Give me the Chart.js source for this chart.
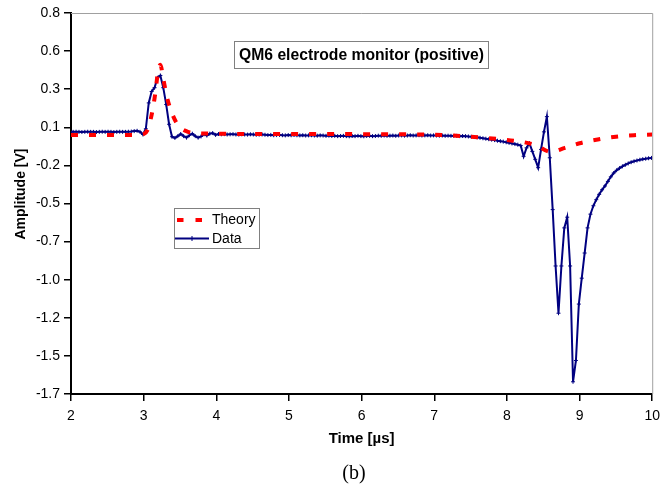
<!DOCTYPE html>
<html>
<head>
<meta charset="utf-8">
<script src="https://cdn.jsdelivr.net/npm/chart.js@4.4.1/dist/chart.umd.min.js"></script>
<style>
  html, body { margin: 0; padding: 0; background: #fff; }
  canvas { display: block; }
</style>
</head>
<body>
<canvas id="qm6" width="667" height="491"></canvas>
<script>
// measured signal (time in µs, amplitude in V)
const dataTime = [
  1.99,2.03,2.07,2.11,2.15,2.19,2.23,2.27,2.31,2.35,
  2.39,2.43,2.47,2.51,2.55,2.59,2.63,2.67,2.71,2.75,
  2.79,2.83,2.87,2.91,2.95,2.99,3.03,3.07,3.11,3.15,
  3.19,3.23,3.27,3.31,3.35,3.39,3.43,3.47,3.51,3.55,
  3.59,3.63,3.67,3.71,3.75,3.79,3.83,3.87,3.91,3.95,
  3.99,4.03,4.07,4.11,4.15,4.19,4.23,4.27,4.31,4.35,
  4.39,4.43,4.47,4.51,4.55,4.59,4.63,4.67,4.71,4.75,
  4.79,4.83,4.87,4.91,4.95,4.99,5.03,5.07,5.11,5.15,
  5.19,5.23,5.27,5.31,5.35,5.39,5.43,5.47,5.51,5.55,
  5.59,5.63,5.67,5.71,5.75,5.79,5.83,5.87,5.91,5.95,
  5.99,6.03,6.07,6.11,6.15,6.19,6.23,6.27,6.31,6.35,
  6.39,6.43,6.47,6.51,6.55,6.59,6.63,6.67,6.71,6.75,
  6.79,6.83,6.87,6.91,6.95,6.99,7.03,7.07,7.11,7.15,
  7.19,7.23,7.27,7.31,7.35,7.39,7.43,7.47,7.51,7.55,
  7.59,7.63,7.67,7.71,7.75,7.79,7.83,7.87,7.91,7.95,
  7.99,8.03,8.07,8.11,8.15,8.19,8.23,8.27,8.31,8.35,
  8.39,8.43,8.47,8.51,8.55,8.59,8.63,8.67,8.71,8.75,
  8.79,8.83,8.87,8.91,8.95,8.99,9.03,9.07,9.11,9.15,
  9.19,9.23,9.27,9.31,9.35,9.39,9.43,9.47,9.51,9.55,
  9.59,9.63,9.67,9.71,9.75,9.79,9.83,9.87,9.91,9.95,
  9.99,10.03
];
const dataAmp = [
  0.020,0.020,0.021,0.020,0.019,0.020,0.021,0.020,0.020,0.019,
  0.020,0.021,0.020,0.021,0.020,0.019,0.020,0.021,0.020,0.020,
  0.021,0.022,0.025,0.027,0.020,0.003,0.040,0.210,0.285,0.310,
  0.375,0.390,0.310,0.200,0.070,-0.012,-0.020,-0.008,0.006,-0.008,
  -0.018,-0.002,0.008,-0.008,-0.018,-0.010,0.004,-0.004,0.008,0.012,
  0.000,0.006,0.004,0.005,0.003,0.004,0.005,0.003,0.002,0.004,
  0.003,0.002,0.004,0.003,0.001,0.002,0.003,0.001,-0.001,0.000,
  -0.002,-0.001,0.000,-0.002,-0.003,-0.001,-0.002,0.000,-0.002,-0.003,
  -0.002,-0.004,-0.003,-0.002,-0.004,-0.005,-0.003,-0.004,-0.006,-0.005,
  -0.007,-0.006,-0.008,-0.007,-0.006,-0.008,-0.009,-0.007,-0.008,-0.006,
  -0.008,-0.009,-0.007,-0.006,-0.008,-0.007,-0.005,-0.006,-0.004,-0.006,
  -0.005,-0.004,-0.006,-0.004,-0.003,-0.005,-0.004,-0.002,-0.004,-0.003,
  -0.002,-0.004,-0.003,-0.002,-0.004,-0.003,-0.004,-0.005,-0.004,-0.006,
  -0.005,-0.006,-0.007,-0.006,-0.008,-0.007,-0.008,-0.010,-0.012,-0.014,
  -0.016,-0.019,-0.022,-0.025,-0.028,-0.031,-0.034,-0.038,-0.041,-0.044,
  -0.048,-0.052,-0.056,-0.060,-0.064,-0.070,-0.140,-0.085,-0.055,-0.108,
  -0.160,-0.215,-0.095,0.020,0.120,-0.150,-0.490,-0.860,-1.170,-0.860,
  -0.610,-0.540,-0.860,-1.620,-1.480,-1.110,-0.940,-0.775,-0.610,-0.520,
  -0.465,-0.425,-0.390,-0.360,-0.335,-0.305,-0.275,-0.250,-0.232,-0.218,
  -0.206,-0.196,-0.187,-0.179,-0.173,-0.168,-0.163,-0.159,-0.156,-0.153,
  -0.151,-0.150
];

// theory curve
const theoryTime = [2.0, 2.5, 2.9, 3.0, 3.05, 3.1, 3.15, 3.2, 3.23, 3.27, 3.32, 3.38, 3.44, 3.5, 3.6, 3.7,
  3.8, 4.0, 4.5, 5.0, 5.5, 6.0, 6.5, 7.0, 7.3, 7.6, 7.9, 8.2, 8.4, 8.6, 8.8, 9.0, 9.25, 9.5, 9.75, 10.0];
const theoryAmp = [0.0, 0.0, 0.0, 0.005, 0.03, 0.11, 0.24, 0.42, 0.46, 0.37, 0.25, 0.155, 0.09, 0.05, 0.022, 0.012,
  0.01, 0.008, 0.006, 0.006, 0.006, 0.005, 0.004, 0.002, -0.005, -0.015, -0.028, -0.045, -0.068, -0.11, -0.085, -0.055, -0.03, -0.012, -0.002, 0.003];

const xTicks = [2, 3, 4, 5, 6, 7, 8, 9, 10];
const yTickValues = [-1.7, -1.45, -1.2, -0.95, -0.7, -0.45, -0.2, 0.05, 0.3, 0.55, 0.8];
const yTickLabels = ["-1.7", "-1.5", "-1.2", "-1.0", "-0.7", "-0.5", "-0.2", "0.1", "0.3", "0.6", "0.8"];

const FONT = "'Liberation Sans', Arial, sans-serif";
const NAVY = "#000080";
const RED = "#ff0000";

function pairs(xs, ys) {
  return xs.map((x, i) => ({ x: x, y: ys[i] }));
}

// white page, grey top/right frame, boxed title, legend, y title, caption
const decor = {
  id: "decor",
  beforeDraw(chart) {
    const c = chart.ctx;
    c.save();
    c.fillStyle = "#fff";
    c.fillRect(0, 0, chart.width, chart.height);
    c.restore();
  },
  afterDraw(chart) {
    const c = chart.ctx;
    const a = chart.chartArea;
    c.save();
    c.strokeStyle = "#a0a0a0";
    c.lineWidth = 1;
    c.beginPath();
    c.moveTo(a.left, a.top + 0.5);
    c.lineTo(a.right + 0.5, a.top + 0.5);
    c.lineTo(a.right + 0.5, a.bottom);
    c.stroke();

    // title box
    c.strokeStyle = "#808080";
    c.fillStyle = "#fff";
    c.fillRect(234.5, 41.5, 254, 27);
    c.strokeRect(234.5, 41.5, 254, 27);
    c.fillStyle = "#000";
    c.font = "bold 15.7px " + FONT;
    c.textAlign = "center";
    c.textBaseline = "middle";
    c.fillText("QM6 electrode monitor (positive)", 361.5, 55.5);

    // legend
    c.fillStyle = "#fff";
    c.fillRect(174.5, 208.5, 85, 40);
    c.strokeRect(174.5, 208.5, 85, 40);
    c.strokeStyle = RED;
    c.lineWidth = 4;
    c.setLineDash([]);
    c.beginPath();
    c.moveTo(177, 220); c.lineTo(183.5, 220);
    c.moveTo(195.5, 220); c.lineTo(202, 220);
    c.stroke();
    c.strokeStyle = NAVY;
    c.lineWidth = 2;
    c.beginPath();
    c.moveTo(175, 238.5); c.lineTo(209, 238.5);
    c.stroke();
    c.lineWidth = 1;
    c.beginPath();
    c.moveTo(192, 236); c.lineTo(192, 241);
    c.stroke();
    c.fillStyle = "#000";
    c.font = "14px " + FONT;
    c.textAlign = "left";
    c.fillText("Theory", 212, 220.5);
    c.fillText("Data", 212, 239);

    // y axis title
    c.save();
    c.translate(21, 194);
    c.rotate(-Math.PI / 2);
    c.font = "bold 14px " + FONT;
    c.textAlign = "center";
    c.fillText("Amplitude [V]", 0, 0);
    c.restore();

    // caption
    c.font = "20px 'Liberation Serif', 'Times New Roman', serif";
    c.textAlign = "center";
    c.fillText("(b)", 354, 474);
    c.restore();
  }
};

new Chart(document.getElementById("qm6"), {
  type: "line",
  data: {
    datasets: [
      {
        label: "Theory",
        data: pairs(theoryTime, theoryAmp),
        borderColor: RED,
        backgroundColor: RED,
        borderWidth: 4,
        borderDash: [7, 11],
        borderCapStyle: "butt",
        pointRadius: 0,
        cubicInterpolationMode: "monotone",
        fill: false
      },
      {
        label: "Data",
        data: pairs(dataTime, dataAmp),
        borderColor: NAVY,
        backgroundColor: NAVY,
        borderWidth: 2,
        pointStyle: "cross",
        pointRadius: 2,
        pointBorderWidth: 1,
        tension: 0,
        fill: false
      }
    ]
  },
  options: {
    responsive: false,
    animation: false,
    devicePixelRatio: 1,
    layout: { padding: { top: 13, right: 14, left: 0, bottom: 43 } },
    plugins: {
      legend: { display: false },
      tooltip: { enabled: false }
    },
    scales: {
      x: {
        type: "linear",
        min: 2,
        max: 10,
        afterBuildTicks: (s) => { s.ticks = xTicks.map((v) => ({ value: v })); },
        afterFit: (s) => { s.height = 54; },
        ticks: {
          color: "#000",
          font: { family: FONT, size: 14 },
          padding: 7,
          maxRotation: 0,
          autoSkip: false,
          callback: (v) => String(v)
        },
        grid: { drawOnChartArea: false, drawTicks: true, tickLength: 7, color: "#000", lineWidth: 1.5 },
        border: { display: true, color: "#000", width: 2 },
        title: {
          display: true,
          text: "Time [µs]",
          color: "#000",
          font: { family: FONT, size: 15, weight: "bold" },
          padding: 0
        }
      },
      y: {
        type: "linear",
        min: -1.7,
        max: 0.8,
        afterBuildTicks: (s) => { s.ticks = yTickValues.map((v) => ({ value: v })); },
        afterFit: (s) => { s.width = 71; },
        ticks: {
          color: "#000",
          font: { family: FONT, size: 14 },
          padding: 4,
          autoSkip: false,
          callback: (v, i) => yTickLabels[i]
        },
        grid: { drawOnChartArea: false, drawTicks: true, tickLength: 7, color: "#000", lineWidth: 1.5 },
        border: { display: true, color: "#000", width: 2 }
      }
    }
  },
  plugins: [decor]
});
</script>
</body>
</html>
